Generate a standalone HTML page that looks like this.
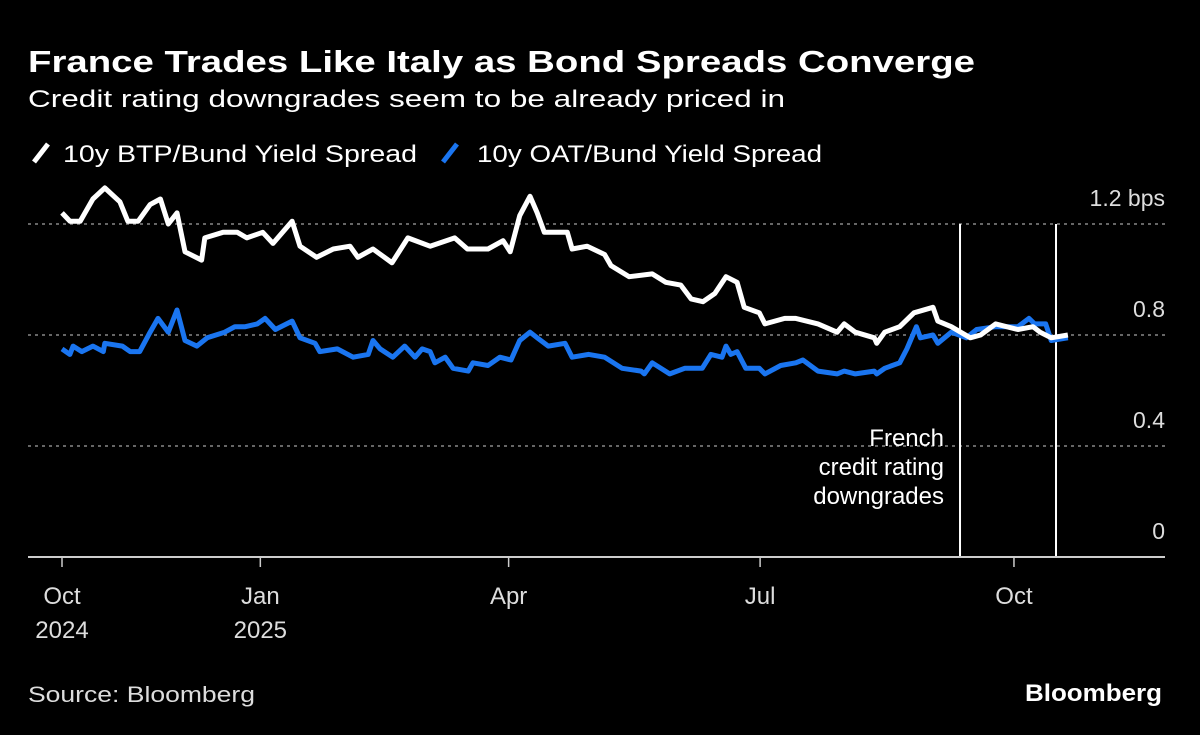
<!DOCTYPE html>
<html><head><meta charset="utf-8"><style>
html,body{margin:0;padding:0;background:#000;}
svg{display:block;font-family:"Liberation Sans",sans-serif;}
</style></head><body>
<svg id="chart" width="1200" height="735" viewBox="0 0 1200 735">
<rect width="1200" height="735" fill="#000"/>
<text x="28" y="72" font-size="31" font-weight="bold" fill="#fff" textLength="947" lengthAdjust="spacingAndGlyphs">France Trades Like Italy as Bond Spreads Converge</text>
<text x="28" y="107" font-size="24" fill="#fff" textLength="757" lengthAdjust="spacingAndGlyphs">Credit rating downgrades seem to be already priced in</text>
<g>
 <g>
  <line x1="34" y1="162" x2="48" y2="144" stroke="#fff" stroke-width="5"/>
  <text x="63" y="162" font-size="24" fill="#fff" textLength="354" lengthAdjust="spacingAndGlyphs">10y BTP/Bund Yield Spread</text>
 </g>
 <g>
  <line x1="443" y1="162" x2="457" y2="144" stroke="#1a75f0" stroke-width="5"/>
  <text x="477" y="162" font-size="24" fill="#fff" textLength="345" lengthAdjust="spacingAndGlyphs">10y OAT/Bund Yield Spread</text>
 </g>
</g>
<g id="grid"></g>
<g id="ylabels"></g>
<g id="annot"></g>
<g id="series"></g>
<g id="xaxis"></g>
<text x="28" y="702" font-size="22" fill="#ddd" textLength="227" lengthAdjust="spacingAndGlyphs">Source: Bloomberg</text>
<text x="1162" y="701" font-size="24" font-weight="bold" fill="#fff" text-anchor="end" textLength="137" lengthAdjust="spacingAndGlyphs">Bloomberg</text>
</svg>
<script>
// months since Oct 1 2024
const btpT = [0,0.1,0.23,0.39,0.54,0.73,0.83,0.96,1.11,1.24,1.34,1.45,1.55,1.76,1.8,2.03,2.21,2.33,2.53,2.66,2.9,3,3.21,3.42,3.63,3.73,3.92,4.16,4.36,4.64,4.95,5.11,5.37,5.56,5.65,5.77,5.9,5.99,6.08,6.37,6.43,6.62,6.84,6.92,7.15,7.44,7.61,7.8,7.93,8.08,8.23,8.37,8.51,8.6,8.79,8.86,9.11,9.25,9.53,9.77,9.86,10,10.24,10.27,10.37,10.56,10.74,10.98,11.04,11.21,11.45,11.58,11.77,12.05,12.24,12.33,12.47,12.68];
const btpV = [1.24,1.21,1.21,1.29,1.33,1.28,1.21,1.21,1.27,1.29,1.2,1.24,1.1,1.07,1.15,1.17,1.17,1.15,1.17,1.13,1.21,1.12,1.08,1.11,1.12,1.08,1.11,1.06,1.15,1.12,1.15,1.11,1.11,1.14,1.1,1.23,1.3,1.24,1.17,1.17,1.11,1.12,1.09,1.05,1.01,1.02,0.99,0.98,0.93,0.92,0.95,1.01,0.99,0.9,0.88,0.84,0.86,0.86,0.84,0.81,0.84,0.81,0.79,0.77,0.81,0.83,0.88,0.9,0.85,0.83,0.79,0.8,0.84,0.82,0.83,0.81,0.79,0.8];
const oatT = [0,0.1,0.14,0.25,0.39,0.52,0.54,0.76,0.86,0.98,1.11,1.21,1.34,1.45,1.55,1.7,1.83,2.05,2.18,2.31,2.46,2.56,2.69,2.9,3,3.19,3.25,3.47,3.67,3.86,3.92,4.01,4.17,4.32,4.45,4.54,4.64,4.7,4.83,4.93,5.12,5.18,5.37,5.52,5.66,5.77,5.9,5.99,6.13,6.34,6.43,6.64,6.84,7.06,7.3,7.34,7.44,7.66,7.85,8.07,8.18,8.32,8.37,8.43,8.51,8.62,8.79,8.86,9.06,9.25,9.34,9.53,9.77,9.86,10,10.24,10.27,10.37,10.56,10.65,10.77,10.82,10.98,11.04,11.21,11.4,11.53,11.77,12.05,12.19,12.26,12.4,12.47,12.68];
const oatV = [0.75,0.73,0.76,0.74,0.76,0.74,0.77,0.76,0.74,0.74,0.81,0.86,0.81,0.89,0.78,0.76,0.79,0.81,0.83,0.83,0.84,0.86,0.82,0.85,0.79,0.77,0.74,0.75,0.72,0.73,0.78,0.75,0.72,0.76,0.72,0.75,0.74,0.7,0.72,0.68,0.67,0.7,0.69,0.72,0.71,0.78,0.81,0.79,0.76,0.77,0.72,0.73,0.72,0.68,0.67,0.66,0.7,0.66,0.68,0.68,0.73,0.72,0.76,0.73,0.74,0.68,0.68,0.66,0.69,0.7,0.71,0.67,0.66,0.67,0.66,0.67,0.66,0.68,0.7,0.75,0.83,0.79,0.8,0.77,0.81,0.79,0.82,0.83,0.83,0.86,0.84,0.84,0.78,0.79];
const yTicks = [0,0.4,0.8,1.2];
const yTickLabels = ["0","0.4","0.8","1.2 bps"];
const xTicks = [0,2.5,5.63,8.8,12];
const xTickLabels = [["Oct","2024"],["Jan","2025"],["Apr",""],["Jul",""],["Oct",""]];
const downgrades = [11.32,12.53];

const NS="http://www.w3.org/2000/svg";
const xS = t => 62 + t*79.33;
const yS = v => 557 - v*277.5;
function mk(tag, attrs, parent){const e=document.createElementNS(NS,tag);for(const k in attrs)e.setAttribute(k,attrs[k]);parent.appendChild(e);return e;}
const grid=document.getElementById('grid'), yl=document.getElementById('ylabels');
yTicks.forEach((v,i)=>{
  if(v>0){const l=mk('line',{x1:28,x2:1165,y1:yS(v),y2:yS(v),stroke:'#888','stroke-width':1.5,'stroke-dasharray':'3,4'},grid);
  
  }
  const t=mk('text',{x:1165,y:yS(v)-18,'font-size':23,fill:'#ddd','text-anchor':'end'},yl);
  t.textContent=yTickLabels[i];
  
  
});
const an=document.getElementById('annot');
downgrades.forEach(d=>{
  const l=mk('line',{x1:xS(d),x2:xS(d),y1:224,y2:557,stroke:'#fff','stroke-width':2},an);
  
  
});
["French","credit rating","downgrades"].forEach((s,i)=>{
  const t=mk('text',{x:944,y:446+i*29,'font-size':24,fill:'#fff','text-anchor':'end'},an);
  t.textContent=s;
  
  
});
const ser=document.getElementById('series');
function line(T,V,color,name){
  const d=T.map((t,i)=>(i?'L':'M')+xS(t).toFixed(1)+','+yS(V[i]).toFixed(1)).join('');
  const p=mk('path',{d:d,fill:'none',stroke:color,'stroke-width':5,'stroke-linejoin':'round'},ser);
  
  
}
line(oatT,oatV,'#1a75f0','oat-line');
line(btpT,btpV,'#ffffff','btp-line');
const xa=document.getElementById('xaxis');
const ax=mk('line',{x1:28,x2:1165,y1:557,y2:557,stroke:'#ccc','stroke-width':2},xa);


xTicks.forEach((t,i)=>{
  const tk=mk('line',{x1:xS(t),x2:xS(t),y1:557,y2:567,stroke:'#ccc','stroke-width':1.5},xa);
  
  
  xTickLabels[i].forEach((s,j)=>{ if(!s)return;
    const tx=mk('text',{x:xS(t),y:604+j*34,'font-size':24,fill:'#ddd','text-anchor':'middle'},xa);
    tx.textContent=s;
    
    
  });
});
</script>
</body></html>
